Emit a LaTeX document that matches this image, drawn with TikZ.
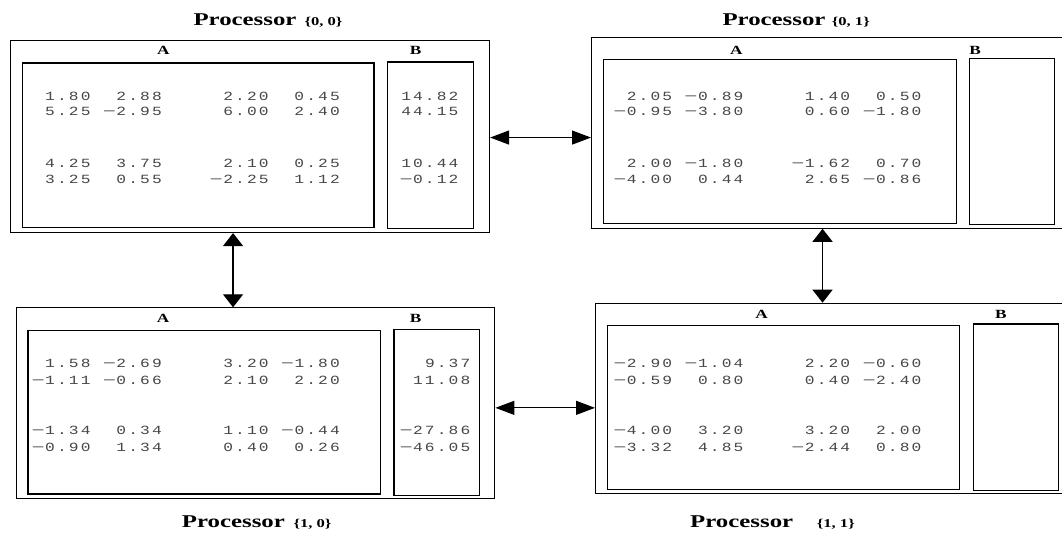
\documentclass[tikz,border=0pt]{standalone}
\usepackage{fontspec}
\usetikzlibrary{arrows.meta}
\newfontfamily\numfont[FakeStretch=1.3]{Liberation Mono}
\newfontfamily\ttlfont[FakeStretch=1.38]{Liberation Serif}
\newlength\cellw
\setlength\cellw{11.87pt}
\makeatletter
\def\cellrow#1{\cellrow@#1\@nil}
\def\cellrow@#1{\ifx#1\@nil\else\cellone{#1}\expandafter\cellrow@\fi}
\makeatother
\def\cellone#1{\if#1x\hspace*{\cellw}\else\if#1-\makebox[\cellw][c]{\scalebox{1.35}[1]{−}}\else\makebox[\cellw][c]{#1}\fi\fi}
\begin{document}
\begin{tikzpicture}[x=1pt,y=-1pt,
  outerbox/.style={draw=black, line width=1.1pt, rectangle, inner sep=0pt, anchor=north west},
  innerbox/.style={draw=black, line width=1.4pt, rectangle, inner sep=0pt, anchor=north west},
  numtxt/.style={inner sep=0pt, anchor=base west, text=black!72, font=\numfont\fontsize{12.5}{14}\selectfont},
  boxlbl/.style={inner sep=0pt, anchor=base, font=\ttlfont\bfseries\fontsize{12.5}{14}\selectfont},
  ttl/.style={inner sep=0pt, anchor=base west, font=\ttlfont\bfseries\fontsize{18}{20}\selectfont},
  ttlsub/.style={inner sep=0pt, anchor=base west, font=\ttlfont\bfseries\fontsize{12}{14}\selectfont},
  harrow/.style={{Triangle[length=19pt,width=14pt]}-{Triangle[length=19pt,width=14pt]}, line width=1.2pt},
  varrow/.style={{Triangle[length=13pt,width=20pt]}-{Triangle[length=13pt,width=20pt]}, line width=1.2pt}
]
\clip (0,0) rectangle (1062,535);
\fill[white] (0,0) rectangle (1062,535);

% ---------- Processor {0,0}
\node[ttl] (t00) at (193.3,26) {Processor};
\node[ttlsub] (s00) at (304.3,26) {\{0, 0\}};
\node[outerbox, minimum width=479pt, minimum height=192pt] (p00) at (10,40) {};
\node[innerbox, minimum width=351.5pt, minimum height=164.5pt] (p00a) at (21.7,62.5) {};
\node[innerbox, minimum width=86pt, minimum height=166.5pt] (p00b) at (387,61.5) {};
\node[boxlbl] (l00a) at (163.3,55) {A};
\node[boxlbl] (l00b) at (415.5,55) {B};
\node[numtxt] (n00r1) at (32.1,100) {\cellrow{x1.80xx2.88xxxxx2.20xx0.45}};
\node[numtxt] (n00r2) at (32.1,115.3) {\cellrow{x5.25x-2.95xxxxx6.00xx2.40}};
\node[numtxt] (n00r3) at (32.1,167) {\cellrow{x4.25xx3.75xxxxx2.10xx0.25}};
\node[numtxt] (n00r4) at (32.1,183.3) {\cellrow{x3.25xx0.55xxxx-2.25xx1.12}};
\node[numtxt] (b00r1) at (400,100) {\cellrow{14.82}};
\node[numtxt] (b00r2) at (400,115.3) {\cellrow{44.15}};
\node[numtxt] (b00r3) at (400,167) {\cellrow{10.44}};
\node[numtxt] (b00r4) at (400,183.3) {\cellrow{-0.12}};

% ---------- Processor {0,1}
\node[ttl] (t01) at (722.3,26) {Processor};
\node[ttlsub] (s01) at (831.7,26) {\{0, 1\}};
\node[outerbox, minimum width=479pt, minimum height=191pt] (p01) at (591,36.7) {};
\node[innerbox, minimum width=353pt, minimum height=164pt] (p01a) at (602.7,59) {};
\node[innerbox, minimum width=85pt, minimum height=166pt] (p01b) at (968.5,58) {};
\node[boxlbl] (l01a) at (736.3,55) {A};
\node[boxlbl] (l01b) at (975,55) {B};
\node[numtxt] (n01r1) at (613.7,100) {\cellrow{x2.05x-0.89xxxxx1.40xx0.50}};
\node[numtxt] (n01r2) at (613.7,115.3) {\cellrow{-0.95x-3.80xxxxx0.60x-1.80}};
\node[numtxt] (n01r3) at (613.7,167) {\cellrow{x2.00x-1.80xxxx-1.62xx0.70}};
\node[numtxt] (n01r4) at (613.7,183.3) {\cellrow{-4.00xx0.44xxxxx2.65x-0.86}};

% ---------- Processor {1,0}
\node[ttl] (t10) at (181.7,527.3) {Processor};
\node[ttlsub] (s10) at (293.3,527.3) {\{1, 0\}};
\node[outerbox, minimum width=478.6pt, minimum height=191pt] (p10) at (15.7,307.3) {};
\node[innerbox, minimum width=352.7pt, minimum height=163.3pt] (p10a) at (27.3,330) {};
\node[innerbox, minimum width=85.4pt, minimum height=166pt] (p10b) at (393.3,328.7) {};
\node[boxlbl] (l10a) at (163,322.5) {A};
\node[boxlbl] (l10b) at (415.5,322.5) {B};
\node[numtxt] (n10r1) at (32.1,367.6) {\cellrow{x1.58x-2.69xxxxx3.20x-1.80}};
\node[numtxt] (n10r2) at (32.1,384.3) {\cellrow{-1.11x-0.66xxxxx2.10xx2.20}};
\node[numtxt] (n10r3) at (32.1,434.3) {\cellrow{-1.34xx0.34xxxxx1.10x-0.44}};
\node[numtxt] (n10r4) at (32.1,451) {\cellrow{-0.90xx1.34xxxxx0.40xx0.26}};
\node[numtxt] (b10r1) at (400,367.6) {\cellrow{xx9.37}};
\node[numtxt] (b10r2) at (400,384.3) {\cellrow{x11.08}};
\node[numtxt] (b10r3) at (400,434.3) {\cellrow{-27.86}};
\node[numtxt] (b10r4) at (400,451) {\cellrow{-46.05}};

% ---------- Processor {1,1}
\node[ttl] (t11) at (690,527.3) {Processor};
\node[ttlsub] (s11) at (816.7,527.3) {\{1, 1\}};
\node[outerbox, minimum width=475pt, minimum height=190pt] (p11) at (595,302.7) {};
\node[innerbox, minimum width=352.3pt, minimum height=164pt] (p11a) at (606.7,324.7) {};
\node[innerbox, minimum width=85pt, minimum height=166.7pt] (p11b) at (972.5,323.3) {};
\node[boxlbl] (l11a) at (761.7,318.5) {A};
\node[boxlbl] (l11b) at (1000.8,318.5) {B};
\node[numtxt] (n11r1) at (613.7,367.6) {\cellrow{-2.90x-1.04xxxxx2.20x-0.60}};
\node[numtxt] (n11r2) at (613.7,384.3) {\cellrow{-0.59xx0.80xxxxx0.40x-2.40}};
\node[numtxt] (n11r3) at (613.7,434.3) {\cellrow{-4.00xx3.20xxxxx3.20xx2.00}};
\node[numtxt] (n11r4) at (613.7,451) {\cellrow{-3.32xx4.85xxxx-2.44xx0.80}};

% ---------- connectors
\draw[harrow] ([yshift=-1pt]p00.east) -- ([yshift=-1pt]p00.east -| p01.west);
\draw[harrow] ([yshift=-4.5pt]p10.east) -- ([yshift=-4.5pt]p10.east -| p11.west);
\draw[varrow] ([xshift=-17pt]p00.south) -- ([xshift=-17pt]p00.south |- p10.north);
\draw[varrow] ([xshift=-8.5pt]p01.south) -- ([xshift=-8.5pt]p01.south |- p11.north);
\end{tikzpicture}
\end{document}
